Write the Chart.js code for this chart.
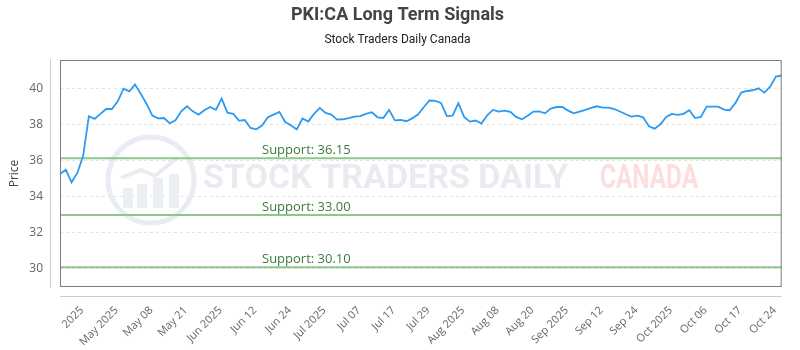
<!DOCTYPE html>
<html>
<head>
<meta charset="utf-8">
<script src="https://cdn.jsdelivr.net/npm/chart.js@4"></script>
<style>
html, body { margin: 0; padding: 0; background: #fff; }
#wrap { width: 800px; height: 350px; }
</style>
</head>
<body>
<div id="wrap"><canvas id="myChart"></canvas></div>
<script>
// closing prices
var prices = [
    35.27, 35.51, 34.81, 35.33, 36.25, 38.48, 38.33, 38.61, 38.88, 38.88,
    39.31, 40.01, 39.86, 40.24, 39.72, 39.16, 38.51, 38.36, 38.38, 38.09,
    38.25, 38.75, 39.03, 38.75, 38.57, 38.81, 38.99, 38.83, 39.46, 38.68,
    38.61, 38.24, 38.27, 37.83, 37.75, 37.96, 38.42, 38.57, 38.72, 38.16,
    37.98, 37.75, 38.35, 38.18, 38.61, 38.94, 38.66, 38.57, 38.29, 38.31,
    38.38, 38.46, 38.49, 38.61, 38.70, 38.42, 38.38, 38.83, 38.25, 38.27,
    38.20, 38.36, 38.57, 38.98, 39.35, 39.33, 39.22, 38.49, 38.51, 39.20,
    38.44, 38.18, 38.24, 38.07, 38.53, 38.83, 38.74, 38.79, 38.72, 38.44,
    38.31, 38.51, 38.74, 38.75, 38.64, 38.90, 38.99, 38.99, 38.79, 38.64,
    38.74, 38.83, 38.94, 39.03, 38.96, 38.96, 38.88, 38.74, 38.59, 38.46,
    38.51, 38.42, 37.92, 37.79, 38.03, 38.44, 38.61, 38.55, 38.61, 38.81,
    38.38, 38.44, 39.01, 39.01, 39.01, 38.85, 38.81, 39.22, 39.79, 39.88,
    39.92, 40.03, 39.79, 40.12, 40.68, 40.74
];

// labels shown under the x axis
var tickLabels = [
    "2025", "May 2025", "May 08", "May 21", "Jun 2025", "Jun 12", "Jun 24",
    "Jul 2025", "Jul 07", "Jul 17", "Jul 29", "Aug 2025", "Aug 08", "Aug 20",
    "Sep 2025", "Sep 12", "Sep 24", "Oct 2025", "Oct 06", "Oct 17", "Oct 24"
];

var supportLevels = [36.15, 33.00, 30.10];

var yTicks = [30, 32, 34, 36, 38, 40];

// a label every 6th point, starting at the 6th
var tickStart = 5;
var tickStep = 6;

var categories = prices.map(function(p, i) {
    if (i >= tickStart && (i - tickStart) % tickStep === 0) {
        return tickLabels[(i - tickStart) / tickStep] || "";
    }
    return "";
});

var datasets = [{
    label: "Price",
    data: prices,
    borderColor: "#2b9af3",
    borderWidth: 1.8,
    pointRadius: 0,
    tension: 0,
    fill: false
}];
supportLevels.forEach(function(level) {
    datasets.push({
        label: "Support",
        data: prices.map(function() { return level; }),
        borderColor: "#8cc78c",
        borderWidth: 2,
        pointRadius: 0,
        fill: false
    });
});

// faded logo behind the plot
var watermark = {
    id: "watermark",
    beforeDatasetsDraw: function(chart) {
        var ctx = chart.ctx;
        var a = chart.chartArea;
        var cx = a.left + 91, cy = a.top + 120;
        ctx.save();
        ctx.strokeStyle = "#e9edf3";
        ctx.lineWidth = 5;
        ctx.beginPath();
        ctx.arc(cx, cy, 43, 0, Math.PI * 2);
        ctx.stroke();
        ctx.fillStyle = "#ebeff4";
        var bars = [[-28, 12], [-14, 16], [2, 22], [18, 26]];
        bars.forEach(function(b) {
            ctx.fillRect(cx + b[0], cy + 30 - b[1] - 10, 10, b[1] + 8);
        });
        ctx.beginPath();
        ctx.moveTo(cx - 30, cy - 2);
        ctx.lineTo(cx - 10, cy - 10);
        ctx.lineTo(cx + 4, cy - 4);
        ctx.lineTo(cx + 26, cy - 22);
        ctx.lineWidth = 4;
        ctx.stroke();
        ctx.font = "bold 34px Roboto";
        ctx.textBaseline = "alphabetic";
        ctx.fillStyle = "#e8ecf1";
        ctx.fillText("STOCK TRADERS DAILY", a.left + 143, a.top + 128, 385);
        ctx.fillStyle = "#fcdede";
        ctx.fillText("CANADA", a.left + 540, a.top + 128, 98);
        ctx.restore();
    }
};

// box around the plot, offset axis lines and support labels
var frame = {
    id: "frame",
    afterDraw: function(chart) {
        var ctx = chart.ctx;
        var a = chart.chartArea;
        var yScale = chart.scales.y;
        ctx.save();
        ctx.lineWidth = 1;
        ctx.strokeStyle = "#cccccc";
        ctx.beginPath();
        ctx.moveTo(a.left - 9.5, a.top - 1);
        ctx.lineTo(a.left - 9.5, a.bottom + 1);
        ctx.moveTo(a.left, a.bottom + 9.5);
        ctx.lineTo(a.right, a.bottom + 9.5);
        ctx.stroke();
        ctx.strokeStyle = "#7d7d7d";
        ctx.strokeRect(a.left + 0.5, a.top + 0.5, a.right - a.left - 1, a.bottom - a.top - 1);

        ctx.font = "13px 'Open Sans'";
        ctx.fillStyle = "#3b7a3b";
        ctx.textAlign = "left";
        ctx.textBaseline = "alphabetic";
        supportLevels.forEach(function(level) {
            var y = yScale.getPixelForValue(level);
            ctx.fillText("Support: " + level.toFixed(2), a.left + 202, y - 4);
        });
        ctx.restore();
    }
};

var ctx = document.getElementById("myChart").getContext("2d");
var myChart = new Chart(ctx, {
    type: "line",
    data: {
        labels: categories,
        datasets: datasets
    },
    options: {
        responsive: true,
        maintainAspectRatio: false,
        animation: false,
        layout: { padding: { left: 5, right: 10, top: 0, bottom: 0 } },
        plugins: {
            legend: { display: false },
            tooltip: { enabled: false },
            title: {
                display: true,
                text: "PKI:CA Long Term Signals",
                color: "#444",
                font: { family: "Roboto", size: 18, weight: "bold" },
                padding: { top: 5, bottom: 6 }
            },
            subtitle: {
                display: true,
                text: "Stock Traders Daily Canada",
                color: "#222",
                font: { family: "Roboto", size: 12 },
                padding: { top: 0, bottom: 13 }
            }
        },
        scales: {
            x: {
                grid: { display: false },
                border: { display: false },
                ticks: {
                    autoSkip: false,
                    minRotation: 45,
                    maxRotation: 45,
                    padding: 9,
                    labelOffset: -7,
                    color: "#666",
                    font: { family: "Open Sans", size: 11 }
                },
                afterFit: function(s) { s.height = 63; }
            },
            y: {
                min: 29,
                max: 41.6,
                grid: { color: "#e4e4e4", drawTicks: false },
                border: { display: false, dash: [3, 3] },
                afterBuildTicks: function(s) {
                    s.ticks = yTicks.map(function(v) { return { value: v }; });
                },
                ticks: {
                    padding: 17,
                    color: "#666",
                    font: { family: "Open Sans", size: 12 }
                },
                title: {
                    display: true,
                    text: "Price",
                    color: "#444",
                    font: { family: "Open Sans", size: 12 },
                    padding: { top: 2, bottom: 2 }
                },
                afterFit: function(s) { s.width = 55; }
            }
        }
    },
    plugins: [watermark, frame]
});
</script>
</body>
</html>
